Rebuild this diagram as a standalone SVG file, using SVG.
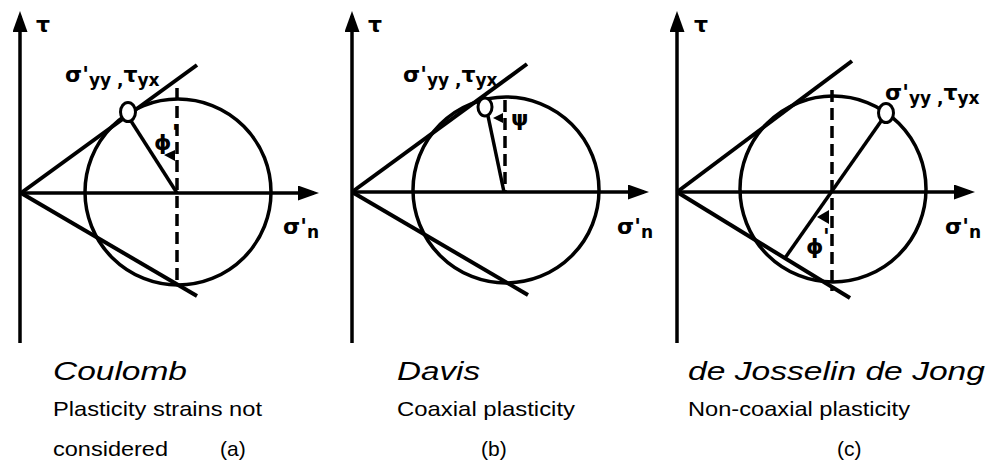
<svg xmlns="http://www.w3.org/2000/svg" width="987" height="472" viewBox="0 0 987 472">
<defs>
<style>
.ln{stroke:#000;fill:none;stroke-width:3.5}
.ax{stroke:#000;fill:none;stroke-width:3.5}
.env{stroke:#000;fill:none;stroke-width:4}
.circ{stroke:#000;fill:none;stroke-width:3.5}
.dash{stroke:#000;fill:none;stroke-width:3.5;stroke-dasharray:12 6}
.pole{fill:#fff;stroke:#000;stroke-width:3}
.ah{fill:#000}
.m{font-family:"DejaVu Sans",sans-serif;font-weight:bold;fill:#000}
.big{font-size:22px}
.sub{font-size:17px}
.t{font-family:"Liberation Sans",Arial,sans-serif;fill:#000}
.it{font-style:italic;font-size:26px}
.nm{font-size:21px}
</style>
<marker id="arr" markerUnits="userSpaceOnUse" markerWidth="21" markerHeight="15" refX="16" refY="7.5" orient="auto" viewBox="0 0 21 15">
<path d="M0,0 L21,7.5 L0,15 z" fill="#000"/>
</marker>
</defs>
<rect width="987" height="472" fill="#fff"/>

<g id="connectors">
<line class="ax" x1="20" y1="343" x2="20" y2="16" marker-end="url(#arr)"/>
<line class="ax" x1="20" y1="193" x2="314" y2="193" marker-end="url(#arr)"/>
<line class="ax" x1="352" y1="343" x2="352" y2="16" marker-end="url(#arr)"/>
<line class="ax" x1="352" y1="192" x2="644" y2="192" marker-end="url(#arr)"/>
<line class="ax" x1="677" y1="343" x2="677" y2="16" marker-end="url(#arr)"/>
<line class="ax" x1="677" y1="192" x2="970" y2="192" marker-end="url(#arr)"/>
</g>

<g id="panel-a">
<line class="env" x1="21" y1="193" x2="197" y2="65"/>
<line class="env" x1="21" y1="193" x2="197" y2="296"/>
<circle class="circ" cx="178" cy="192" r="93"/>
<line class="dash" x1="177" y1="88" x2="177" y2="281"/>
<line class="ln" x1="177" y1="193" x2="131" y2="121"/>
<ellipse class="pole" cx="128" cy="112" rx="7.5" ry="9.5"/>
<polygon class="ah" points="164,155 175,150 175,161"/>
<text class="m big" x="154" y="150">ϕ</text>
<text class="m big" x="172" y="140">'</text>
<text class="m" x="65" y="82"><tspan class="big">σ'</tspan><tspan class="sub" dy="4">yy ,</tspan><tspan class="big" dy="-4">τ</tspan><tspan class="sub" dy="4">yx</tspan></text>
<text class="m big" x="36" y="32">τ</text>
<text class="m" x="283" y="234"><tspan class="big">σ'</tspan><tspan class="sub" dy="4">n</tspan></text>
</g>

<g id="panel-b">
<line class="env" x1="352" y1="192" x2="527" y2="64"/>
<line class="env" x1="352" y1="192" x2="528" y2="295"/>
<circle class="circ" cx="506" cy="190" r="93"/>
<line class="dash" x1="505" y1="100" x2="505" y2="192"/>
<line class="ln" x1="504" y1="192" x2="488" y2="116"/>
<ellipse class="pole" cx="485" cy="107" rx="7" ry="9"/>
<polygon class="ah" points="493,118 503,113 503,123"/>
<text class="m big" x="511" y="126">ψ</text>
<text class="m" x="403" y="82"><tspan class="big">σ'</tspan><tspan class="sub" dy="4">yy ,</tspan><tspan class="big" dy="-4">τ</tspan><tspan class="sub" dy="4">yx</tspan></text>
<text class="m big" x="368" y="32">τ</text>
<text class="m" x="617" y="234"><tspan class="big">σ'</tspan><tspan class="sub" dy="4">n</tspan></text>
</g>

<g id="panel-c">
<line class="env" x1="677" y1="192" x2="852" y2="61"/>
<line class="env" x1="677" y1="192" x2="850" y2="298"/>
<circle class="circ" cx="833" cy="189" r="93"/>
<line class="dash" x1="832" y1="90" x2="832" y2="291"/>
<line class="ln" x1="884" y1="117" x2="785" y2="258"/>
<ellipse class="pole" cx="886" cy="113" rx="7.5" ry="9.5"/>
<polygon class="ah" points="817,217 829,210 829,224"/>
<text class="m big" x="806" y="254">ϕ</text>
<text class="m big" x="823" y="244">'</text>
<text class="m" x="885" y="100"><tspan class="big">σ'</tspan><tspan class="sub" dy="4">yy ,</tspan><tspan class="big" dy="-4">τ</tspan><tspan class="sub" dy="4">yx</tspan></text>
<text class="m big" x="694" y="32">τ</text>
<text class="m" x="945" y="234"><tspan class="big">σ'</tspan><tspan class="sub" dy="4">n</tspan></text>
</g>

<g id="captions">
<text class="t it" x="53" y="380" textLength="134" lengthAdjust="spacingAndGlyphs">Coulomb</text>
<text class="t nm" x="53" y="416" textLength="209" lengthAdjust="spacingAndGlyphs">Plasticity strains not</text>
<text class="t nm" x="53" y="456" textLength="115" lengthAdjust="spacingAndGlyphs">considered</text>
<text class="t nm" x="220" y="456">(a)</text>
<text class="t it" x="397" y="380" textLength="83" lengthAdjust="spacingAndGlyphs">Davis</text>
<text class="t nm" x="397" y="416" textLength="178" lengthAdjust="spacingAndGlyphs">Coaxial plasticity</text>
<text class="t nm" x="481" y="456">(b)</text>
<text class="t it" x="688" y="380" textLength="297" lengthAdjust="spacingAndGlyphs">de Josselin de Jong</text>
<text class="t nm" x="688" y="416" textLength="222" lengthAdjust="spacingAndGlyphs">Non-coaxial plasticity</text>
<text class="t nm" x="837" y="456">(c)</text>
</g>
</svg>
